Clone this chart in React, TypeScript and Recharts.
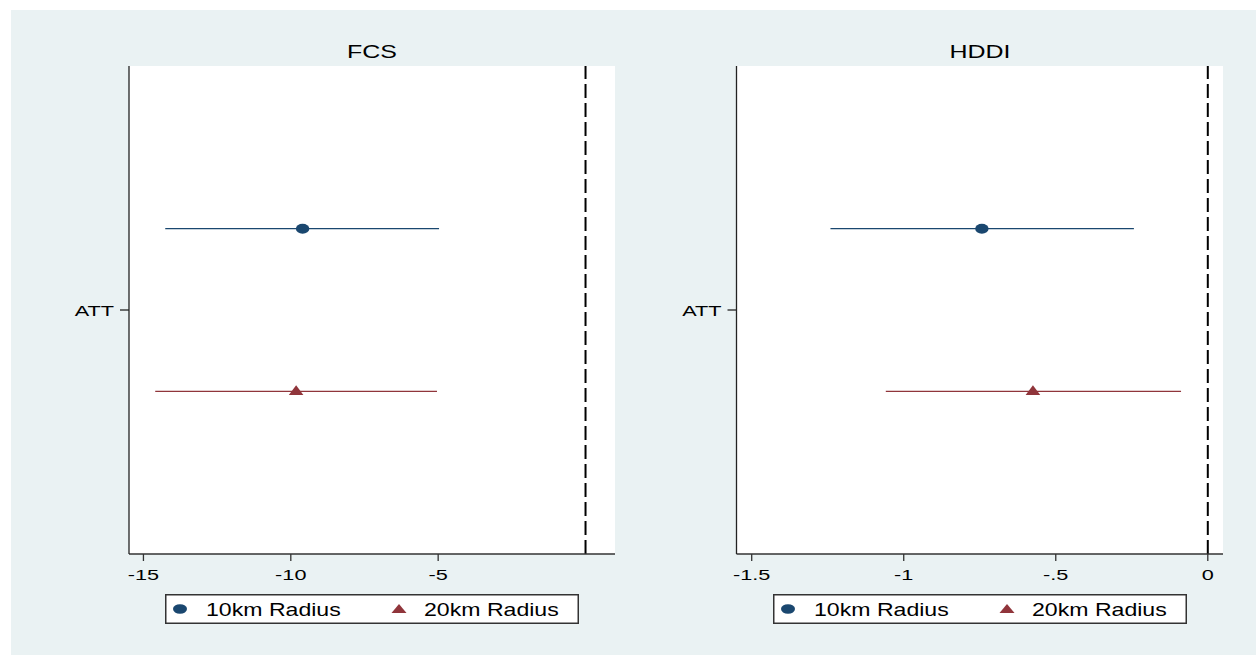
import { ScatterChart, Scatter, XAxis, YAxis, ErrorBar, ReferenceLine, CartesianGrid, Legend } from 'recharts'

const FONT = '"Liberation Sans", Arial, sans-serif'
const NAVY = '#1a476f'
const MAROON = '#90353b'

// one panel per outcome
const panels = ['FCS', 'HDDI']
const series = ['10km Radius', '20km Radius']

// point estimates and 95% CI bounds, [FCS, HDDI]
const est10 = [-9.6, -0.743]
const lo10 = [-14.26, -1.241]
const hi10 = [-4.97, -0.243]
const est20 = [-9.82, -0.575]
const lo20 = [-14.6, -1.059]
const hi20 = [-5.04, -0.088]

// coefplot row positions (10km above, 20km below the ATT tick)
const rowPos = [2, 1]
const attPos = 1.5
const xDomains: [number, number][] = [[-15.49, 1.0], [-1.55, 0.05]]
const xTicks = [[-15, -10, -5], [-1.5, -1, -0.5, 0]]

const fmt = (v: number) => String(v).replace('0.', '.')

const Dot = (p: any) => <ellipse cx={p.cx} cy={p.cy} rx={6.7} ry={5} fill={NAVY} />
const Tri = (p: any) => (
  <polygon
    points={`${p.cx},${p.cy - 6} ${p.cx - 7.3},${p.cy + 3.7} ${p.cx + 7.3},${p.cy + 3.7}`}
    fill={MAROON}
  />
)

const XTick = ({ x, y, payload }: any) => (
  <g transform={`translate(${x},${y})`}>
    <text transform="scale(1.4,1)" textAnchor="middle" dy="0.71em" fontSize={15.5} fill="#000" fontFamily={FONT}>
      {fmt(payload.value)}
    </text>
  </g>
)

const YTick = ({ x, y }: any) => (
  <g transform={`translate(${x},${y})`}>
    <text transform="scale(1.4,1)" textAnchor="end" dy="0.355em" fontSize={15.5} fill="#000" fontFamily={FONT}>
      ATT
    </text>
  </g>
)

const LegendBox = () => (
  <svg width={414} height={30} style={{ display: 'block' }}>
    <rect x={0.75} y={0.75} width={412.5} height={28.5} fill="#fff" stroke="#333" strokeWidth={1.5} />
    <ellipse cx={15} cy={15} rx={7} ry={4.8} fill={NAVY} />
    <g transform="translate(41,22)">
      <text transform="scale(1.32,1)" fontSize={17.5} fontFamily={FONT} fill="#000">{series[0]}</text>
    </g>
    <polygon points="234,10 226.5,19 241.5,19" fill={MAROON} />
    <g transform="translate(259,22)">
      <text transform="scale(1.32,1)" fontSize={17.5} fontFamily={FONT} fill="#000">{series[1]}</text>
    </g>
  </svg>
)

function Panel({ i, left }: { i: number; left: number }) {
  const mLeft = i === 0 ? 129 : 108.5
  const mRight = i === 0 ? 13 : 33
  const plotW = 628 - mLeft - mRight
  const cx = mLeft + plotW / 2
  const rows10 = [{ x: est10[i], y: rowPos[0], err: [est10[i] - lo10[i], hi10[i] - est10[i]] }]
  const rows20 = [{ x: est20[i], y: rowPos[1], err: [est20[i] - lo20[i], hi20[i] - est20[i]] }]

  return (
    <div style={{ position: 'absolute', left, top: 0, width: 628, height: 655 }}>
      <div
        style={{
          position: 'absolute', left: cx - 100, width: 200, top: 43, textAlign: 'center',
          fontFamily: FONT, fontSize: 18.5, lineHeight: '18.5px', transform: 'scaleX(1.35)', color: '#000',
        }}
      >
        {panels[i]}
      </div>
      <ScatterChart width={628} height={655} margin={{ top: 66, right: mRight, bottom: 0, left: 0 }}>
        <CartesianGrid fill="#fff" horizontal={false} vertical={false} />
        <XAxis
          type="number"
          dataKey="x"
          domain={xDomains[i]}
          ticks={xTicks[i]}
          allowDataOverflow
          height={101}
          tickSize={7}
          tickMargin={8}
          tick={<XTick />}
          axisLine={{ stroke: '#333', strokeWidth: 1.3 }}
          tickLine={{ stroke: '#333', strokeWidth: 1.3 }}
        />
        <YAxis
          type="number"
          dataKey="y"
          domain={[0, 3]}
          ticks={[attPos]}
          width={mLeft}
          tickSize={9}
          tickMargin={6}
          tick={<YTick />}
          axisLine={{ stroke: '#222', strokeWidth: 1.3 }}
          tickLine={{ stroke: '#222', strokeWidth: 1.3 }}
        />
        <ReferenceLine x={0} stroke="#000" strokeWidth={2} strokeDasharray="14 5" />
        <Scatter name={series[0]} data={rows10} shape={Dot} fill={NAVY} isAnimationActive={false}>
          <ErrorBar dataKey="err" direction="x" width={0} stroke={NAVY} strokeWidth={1.3} />
        </Scatter>
        <Scatter name={series[1]} data={rows20} shape={Tri} fill={MAROON} isAnimationActive={false}>
          <ErrorBar dataKey="err" direction="x" width={0} stroke={MAROON} strokeWidth={1.3} />
        </Scatter>
        <Legend
          layout="horizontal"
          verticalAlign="middle"
          align="center"
          content={<LegendBox />}
          wrapperStyle={{ left: cx - 207, top: 594, width: 414, height: 30 }}
        />
      </ScatterChart>
    </div>
  )
}

export default function App() {
  return (
    <div style={{ position: 'absolute', left: 0, top: 0, width: 1256, height: 655, background: '#fff', overflow: 'hidden' }}>
      <div style={{ position: 'absolute', left: 11, top: 10, width: 1245, height: 645, background: '#eaf2f3' }} />
      <Panel i={0} left={0} />
      <Panel i={1} left={628} />
    </div>
  )
}
